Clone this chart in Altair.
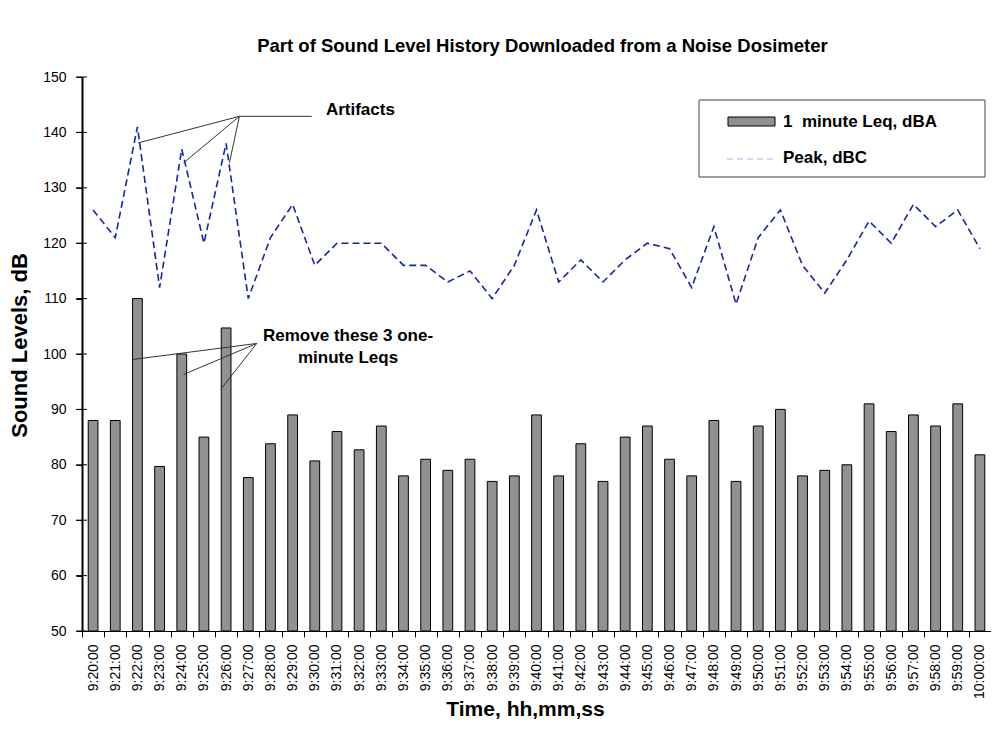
import altair as alt
import pandas as pd

# ---- data ----
times = ["9:20:00", "9:21:00", "9:22:00", "9:23:00", "9:24:00", "9:25:00", "9:26:00",
         "9:27:00", "9:28:00", "9:29:00", "9:30:00", "9:31:00", "9:32:00", "9:33:00",
         "9:34:00", "9:35:00", "9:36:00", "9:37:00", "9:38:00", "9:39:00", "9:40:00",
         "9:41:00", "9:42:00", "9:43:00", "9:44:00", "9:45:00", "9:46:00", "9:47:00",
         "9:48:00", "9:49:00", "9:50:00", "9:51:00", "9:52:00", "9:53:00", "9:54:00",
         "9:55:00", "9:56:00", "9:57:00", "9:58:00", "9:59:00", "10:00:00"]
leq = [88, 88, 110, 79.7, 100, 85, 104.7, 77.7, 83.8, 89, 80.7, 86, 82.7, 87,
       78, 81, 79, 81, 77, 78, 89, 78, 83.8, 77, 85, 87, 81, 78,
       88, 77, 87, 90, 78, 79, 80, 91, 86, 89, 87, 91, 81.8]
peak = [126, 121, 141, 112, 137, 120, 138, 110, 121, 127, 116, 120, 120, 120,
        116, 116, 113, 115, 110, 116, 126, 113, 117, 113, 117, 120, 119, 112,
        123, 109, 121, 126, 116, 111, 117, 124, 120, 127, 123, 126, 119]
baseline_db = 50
y_ticks = [50, 60, 70, 80, 90, 100, 110, 120, 130, 140, 150]

# annotation leader lines in (category index, dB) units
ann_x1 = [6.6, 6.6, 6.6, 6.6, 7.38, 7.38, 7.38]
ann_y1 = [142.9, 142.9, 142.9, 142.9, 101.9, 101.9, 101.9]
ann_x2 = [9.86, 2.03, 4.08, 6.15, 1.78, 4.08, 5.78]
ann_y2 = [142.9, 138.1, 134.5, 134.5, 99.0, 96.3, 93.75]

ann_text = ["Artifacts", "Remove these 3 one-", "minute Leqs"]
ann_tx = [10.5, 11.5, 11.5]
ann_ty = [144.0, 103.2, 99.2]
ann_align = ["left", "center", "center"]

FONT = "Liberation Sans"

df = pd.DataFrame({"time": times, "leq": leq, "peak": peak, "base": baseline_db})
ann = pd.DataFrame({"x1": ann_x1, "y1": ann_y1, "x2": ann_x2, "y2": ann_y2})
txt = pd.DataFrame({"t": ann_text, "x": ann_tx, "y": ann_ty, "a": ann_align})
ticks_df = pd.DataFrame({"v": y_ticks})
dom_df = pd.DataFrame({"lo": [min(y_ticks)], "hi": [max(y_ticks)]})

YT = "Sound Levels, dB"
yscale = alt.Scale(domain=[50, 150], nice=False, zero=False)
yaxis = alt.Axis(values=y_ticks, labelFontSize=14,
                 labelFont=FONT, labelColor="black", tickColor="black",
                 domain=True, ticks=True, domainColor="black", domainWidth=1,
                 tickSize=6, tickWidth=1, labelPadding=10, zindex=1,
                 titleFont=FONT, titleFontSize=22, titleFontWeight="bold",
                 titleColor="black", titlePadding=11, titleY=268, grid=False)

xenc = alt.X("time:N", sort=times, scale=alt.Scale(paddingInner=0, paddingOuter=0),
             title="Time, hh,mm,ss",
             axis=alt.Axis(labelAngle=-90, tickBand="extent", labelFontSize=14,
                           labelFont=FONT, labelColor="black", tickColor="black",
                           domainColor="black", tickSize=6, labelPadding=7, zindex=1,
                           titleFont=FONT, titleFontSize=21, titleFontWeight="bold",
                           titleColor="black", titlePadding=0, titleX=443, grid=False))

bars = alt.Chart(df).mark_bar(
    width=alt.RelativeBandSize(0.44), fill="#919191", stroke="#000000", strokeWidth=1
).encode(
    x=xenc,
    y=alt.Y("leq:Q", scale=yscale, title=YT, axis=yaxis),
    y2="base:Q",
)

line = alt.Chart(df).mark_line(
    color="#17279C", strokeWidth=1.6, strokeDash=[7, 4]
).encode(
    x=alt.X("time:N", sort=times),
    y=alt.Y("peak:Q", scale=yscale, title=YT, axis=yaxis),
)

main = alt.layer(bars, line)

xq = alt.Scale(domain=[-0.5, 40.5], nice=False, zero=False)
rules = alt.Chart(ann).mark_rule(color="#333333", strokeWidth=1).encode(
    x=alt.X("x1:Q", scale=xq, axis=None),
    x2="x2:Q",
    y=alt.Y("y1:Q", scale=yscale, title=YT, axis=yaxis),
    y2="y2:Q",
)
lab_left = alt.Chart(txt[txt.a == "left"]).mark_text(
    font=FONT, fontSize=17, fontWeight="bold", color="black", baseline="middle", align="left"
).encode(x=alt.X("x:Q", scale=xq, axis=None),
         y=alt.Y("y:Q", scale=yscale, title=YT, axis=yaxis), text="t:N")
lab_center = alt.Chart(txt[txt.a == "center"]).mark_text(
    font=FONT, fontSize=17, fontWeight="bold", color="black", baseline="middle", align="center"
).encode(x=alt.X("x:Q", scale=xq, axis=None),
         y=alt.Y("y:Q", scale=yscale, title=YT, axis=yaxis), text="t:N")

annot = alt.layer(rules, lab_left, lab_center)

# y axis line drawn as a thin filled strip, plus crossing tick marks
ydom = alt.Chart(dom_df).mark_rect(fill="black", stroke=None).encode(
    x=alt.value(-0.5), x2=alt.value(1.5),
    y=alt.Y("lo:Q", scale=yscale, title=YT, axis=yaxis), y2="hi:Q")
ytk = alt.Chart(ticks_df).mark_rule(color="black", strokeWidth=1).encode(
    x=alt.value(-6), x2=alt.value(5), y=alt.Y("v:Q", scale=yscale, title=YT, axis=yaxis))

# legend drawn as a boxed key
leg_df = pd.DataFrame({"t": ["1\u00a0 minute Leq, dBA", "Peak, dBC"], "k": [0, 1]})
leg_box = alt.Chart(leg_df.head(1)).mark_rect(fill="white", stroke="#444444", strokeWidth=1).encode(
    x=alt.value(617), x2=alt.value(903), y=alt.value(23), y2=alt.value(100))
leg_sw = alt.Chart(leg_df.head(1)).mark_rect(fill="#919191", stroke="black", strokeWidth=1).encode(
    x=alt.value(646), x2=alt.value(693), y=alt.value(40), y2=alt.value(49))
leg_dash = alt.Chart(leg_df.head(1)).mark_rule(color="#AAB2DE", strokeWidth=1, strokeDash=[6, 4]).encode(
    x=alt.value(645), x2=alt.value(693), y=alt.value(82))
leg_t1 = alt.Chart(leg_df.head(1)).mark_text(
    font=FONT, fontSize=17, fontWeight="bold", color="black", align="left", baseline="middle"
).encode(x=alt.value(701), y=alt.value(45), text="t:N")
leg_t2 = alt.Chart(leg_df.tail(1)).mark_text(
    font=FONT, fontSize=17, fontWeight="bold", color="black", align="left", baseline="middle"
).encode(x=alt.value(701), y=alt.value(81), text="t:N")
legend = alt.layer(leg_box, leg_sw, leg_dash, leg_t1, leg_t2)

chart = alt.layer(main, annot, legend, ytk, ydom).resolve_scale(x="independent").properties(
    width=909, height=554,
    padding={"left": 74, "top": 69, "right": 0, "bottom": 100},
    autosize=alt.AutoSizeParams(type="none"),
    background="white",
    title=alt.TitleParams(
        "Part of Sound Level History Downloaded from a Noise Dosimeter",
        font=FONT, fontSize=18.5, fontWeight="bold", color="black", offset=15,
        anchor="middle", dx=6),
).configure_view(stroke=None)

chart.save("out.html", embed_options={"renderer": "svg", "actions": False})
